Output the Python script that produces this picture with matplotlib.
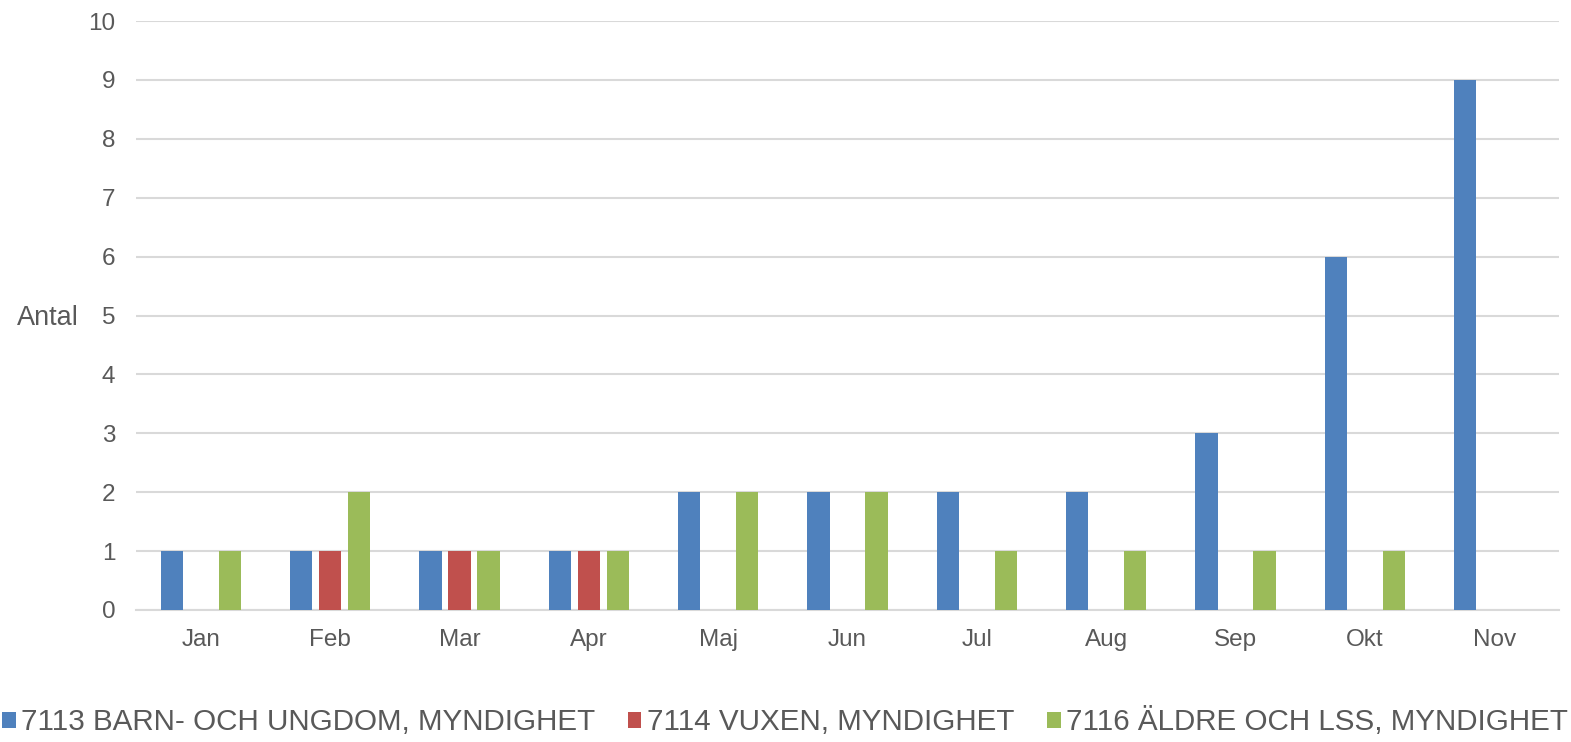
import matplotlib
matplotlib.use("Agg")
import matplotlib.pyplot as plt
import numpy as np

plt.rcParams['font.family'] = ['Liberation Sans', 'DejaVu Sans']

months = ["Jan", "Feb", "Mar", "Apr", "Maj", "Jun", "Jul", "Aug", "Sep", "Okt", "Nov"]
barn = [1, 1, 1, 1, 2, 2, 2, 2, 3, 6, 9]
vuxen = [0, 1, 1, 1, 0, 0, 0, 0, 0, 0, 0]
aldre = [1, 2, 1, 1, 2, 2, 1, 1, 1, 1, 0]
labels = ["7113 BARN- OCH UNGDOM, MYNDIGHET", "7114 VUXEN, MYNDIGHET", "7116 ÄLDRE OCH LSS, MYNDIGHET"]
colors = ["#4f81bd", "#c0504d", "#9bbb59"]

fig = plt.figure(figsize=(15.71, 7.42), dpi=100)
ax = fig.add_axes([136/1571, 1 - 610/742, (1559-136)/1571, (610-21)/742])

x = np.arange(len(months))
step = 0.224
w = 0.172
for i, (vals, lab, c) in enumerate(zip([barn, vuxen, aldre], labels, colors)):
    ax.bar(x + (i - 1) * step, vals, width=w, color=c, label=lab, zorder=3)

ax.set_xlim(-0.5, len(months) - 0.5)
ax.set_ylim(0, 10)
ax.set_yticks(range(0, 11))
ax.set_xticks(x)
ax.set_xticklabels(months)
ax.grid(axis='y', color='#d9d9d9', linewidth=1.5, zorder=0)
for s in ['top', 'right', 'left']:
    ax.spines[s].set_visible(False)
ax.spines['bottom'].set_color('#d9d9d9')
ax.spines['bottom'].set_linewidth(1.5)
ax.tick_params(axis='both', length=0, labelsize=17.5, colors='#595959')
ax.tick_params(axis='y', pad=15)
ax.tick_params(axis='x', pad=14)

fig.text(17/1571, 1 - 318/742, "Antal", fontsize=19.5, color='#595959', va='center', ha='left')

leg = fig.legend(loc='center', bbox_to_anchor=(785/1571, 1 - 722/742), ncol=3, frameon=False,
                 fontsize=21.3, handlelength=0.47, handleheight=0.47, handletextpad=0.2,
                 columnspacing=1.08, labelcolor='#595959')

fig.savefig("out.png", dpi=100)
